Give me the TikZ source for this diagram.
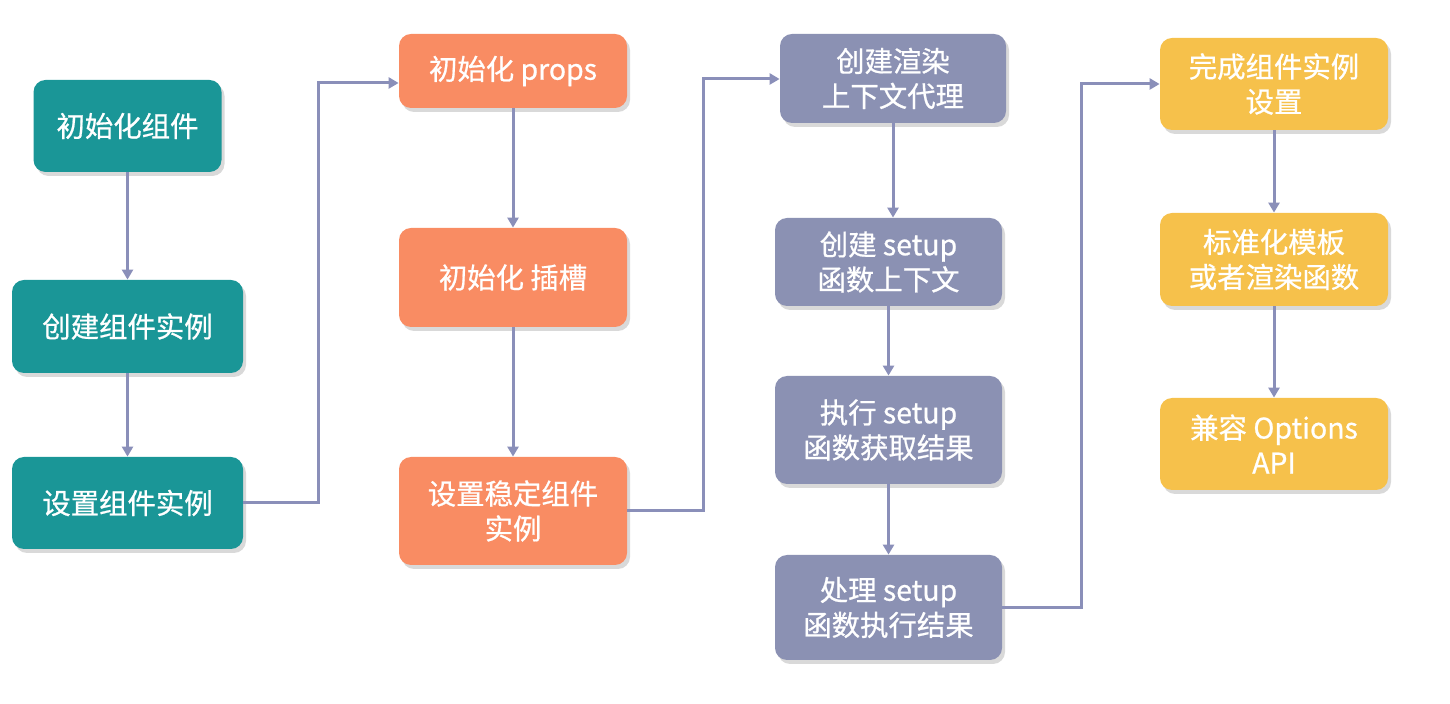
\documentclass[tikz,border=0pt]{standalone}
\usepackage{fontspec}
\setmainfont{Noto Sans CJK SC}
\newfontfamily\fcfont[FakeBold=0.7]{Noto Sans CJK SC}
\usepackage{tikz}
\usetikzlibrary{arrows.meta}
\usetikzlibrary{shadows}
\usepackage{xcolor}
\definecolor{fc_teal}{HTML}{1A9697}
\definecolor{fc_orange}{HTML}{F98C63}
\definecolor{fc_slate}{HTML}{8B91B3}
\definecolor{fc_yellow}{HTML}{F6C14B}
\definecolor{fc_line}{HTML}{8A8FB9}
\tikzset{
  flownode/.style = {align=center, inner sep=0pt, text centered, white,
    rounded corners=6pt, font=\fcfont\fontsize{14.2}{17.5}\selectfont,
    drop shadow={opacity=0.3, shadow xshift=1.5pt, shadow yshift=-2pt}},
  fc_t/.style = {flownode, fill=fc_teal},% colonne 1
  fc_o/.style = {flownode, fill=fc_orange},% colonne 2
  fc_s/.style = {flownode, fill=fc_slate},% colonne 3
  fc_y/.style = {flownode, fill=fc_yellow},% colonne 4
  conn/.style = {draw=fc_line, line width=1.5pt,
    -{Triangle[length=5pt, width=5.5pt]}}
}

\begin{document}
\begin{tikzpicture}[x=0.5pt, y=-0.5pt]
\useasboundingbox (0,0) rectangle (1450,704);
% colonne 1
\node [fc_t, minimum width=94pt, minimum height=46pt] (a1) at (127.5,126) {初始化组件};
\node [fc_t, minimum width=115.5pt, minimum height=46.5pt] (a2) at (127.5,326.5) {创建组件实例};
\node [fc_t, minimum width=115.5pt, minimum height=46pt] (a3) at (127.5,503) {设置组件实例};
% colonne 2
\node [fc_o, minimum width=114pt, minimum height=37pt] (b1) at (513,71) {初始化 props};
\node [fc_o, minimum width=114pt, minimum height=49.5pt] (b2) at (513,277.5) {初始化 插槽};
\node [fc_o, minimum width=114pt, minimum height=54pt] (b3) at (513,511) {设置稳定组件\\实例};
% colonne 3
\node [fc_s, minimum width=113pt, minimum height=44.5pt] (c1) at (893,78.5) {创建渲染\\上下文代理};
\node [fc_s, minimum width=113.5pt, minimum height=44pt] (c2) at (888.5,262) {创建 setup\\函数上下文};
\node [fc_s, minimum width=113.5pt, minimum height=54pt] (c3) at (888.5,430) {执行 setup\\函数获取结果};
\node [fc_s, minimum width=113.5pt, minimum height=52.5pt] (c4) at (888.5,607.5) {处理 setup\\函数执行结果};
% colonne 4
\node [fc_y, minimum width=114pt, minimum height=46pt] (d1) at (1274,84) {完成组件实例\\设置};
\node [fc_y, minimum width=114pt, minimum height=46.5pt] (d2) at (1274,259.5) {标准化模板\\或者渲染函数};
\node [fc_y, minimum width=114pt, minimum height=46pt] (d3) at (1274,444) {兼容 Options\\API};

\coordinate (k1) at (318,83);
\coordinate (k2) at (703,79);
\coordinate (k3) at (1081,84);

\draw [conn] (a1.south) -- (a1.south |- a2.north);
\draw [conn] (a2.south) -- (a2.south |- a3.north);
\draw [conn] (a3.east) -| (k1) -- (k1 -| b1.west);
\draw [conn] (b1.south) -- (b1.south |- b2.north);
\draw [conn] (b2.south) -- (b2.south |- b3.north);
\draw [conn] (b3.east) -| (k2) -- (k2 -| c1.west);
\draw [conn] (c1.south) -- (c1.south |- c2.north);
\draw [conn] (c2.south) -- (c2.south |- c3.north);
\draw [conn] (c3.south) -- (c3.south |- c4.north);
\draw [conn] (c4.east) -| (k3) -- (k3 -| d1.west);
\draw [conn] (d1.south) -- (d1.south |- d2.north);
\draw [conn] (d2.south) -- (d2.south |- d3.north);
\end{tikzpicture}
\end{document}
